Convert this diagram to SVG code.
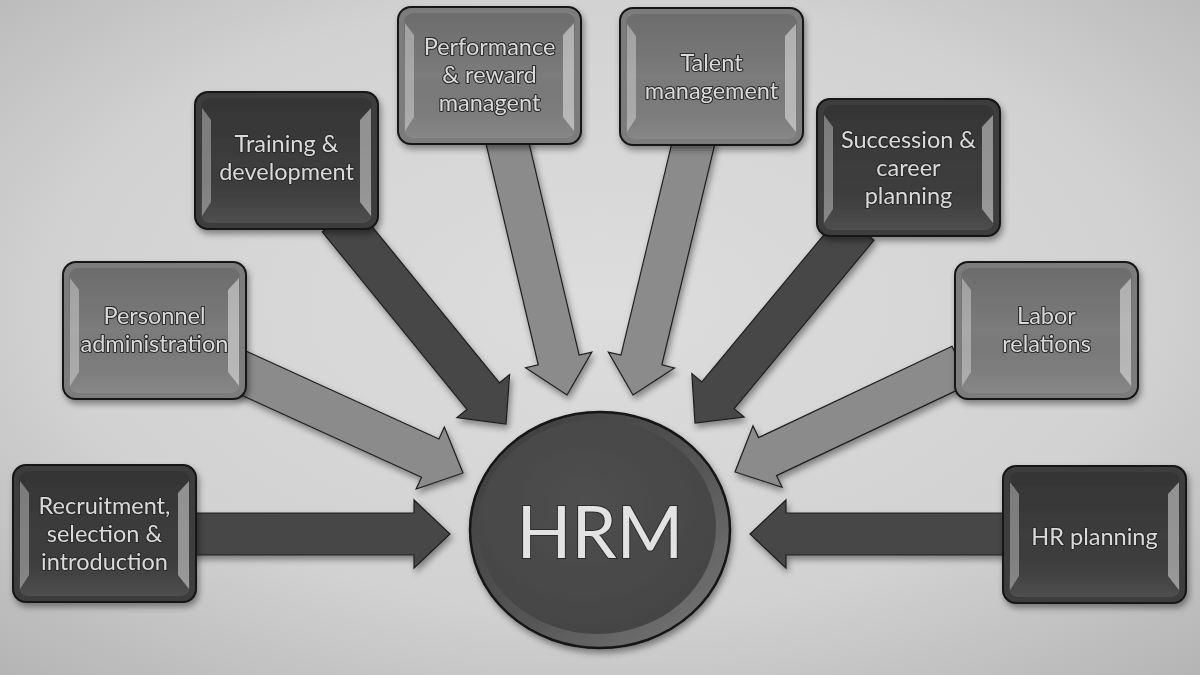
<svg xmlns="http://www.w3.org/2000/svg" xmlns:xlink="http://www.w3.org/1999/xlink" width="1200" height="675" viewBox="0 0 1200 675">
  <defs>
    <radialGradient id="bg" cx="50%" cy="45%" r="75%">
      <stop offset="0" stop-color="#dddddd"/>
      <stop offset="0.6" stop-color="#d2d2d2"/>
      <stop offset="1" stop-color="#b4b4b4"/>
    </radialGradient>
    <linearGradient id="faceShade" x1="0" y1="0" x2="0" y2="1">
      <stop offset="0" stop-color="#000" stop-opacity="0.12"/>
      <stop offset="0.5" stop-color="#000" stop-opacity="0"/>
      <stop offset="1" stop-color="#fff" stop-opacity="0.10"/>
    </linearGradient>
    <linearGradient id="rim" x1="0" y1="0" x2="1" y2="1">
      <stop offset="0" stop-color="#3a3a3a"/>
      <stop offset="0.55" stop-color="#555"/>
      <stop offset="1" stop-color="#7a7a7a"/>
    </linearGradient>
    <radialGradient id="face" cx="45%" cy="40%" r="65%">
      <stop offset="0" stop-color="#4f4f4f"/>
      <stop offset="1" stop-color="#444"/>
    </radialGradient>
    <filter id="sh" x="-20%" y="-20%" width="150%" height="150%">
      <feDropShadow dx="2" dy="4" stdDeviation="3" flood-color="#000" flood-opacity="0.4"/>
    </filter>
    <g id="bev">
      <rect x="6" y="6" width="171" height="125" rx="9" fill="url(#faceShade)"/>
      <path d="M7,16 L16,28 L16,110 L7,124 Z" fill="#fff" opacity="0.35"/>
      <path d="M176,16 L165,28 L165,110 L176,124 Z" fill="#fff" opacity="0.45"/>
    </g>
  </defs>
  <style>
    .box { stroke: #141414; stroke-width: 2; }
    .dark { fill: #3c3c3c; }
    .mid { fill: #7b7b7b; }
    .arrow { stroke: #1e1e1e; stroke-width: 1.2; stroke-linejoin: miter; }
    .adark { fill: #474747; }
    .amid { fill: #8b8b8b; }
    .lbl { font-family: Lato, "Open Sans", "Liberation Sans", sans-serif; font-size: 23.5px; fill: #dadada; text-anchor: middle; stroke: #2a2a2a; stroke-width: 2.2px; paint-order: stroke; stroke-linejoin: round; }
    .big { font-family: Lato, "Open Sans", "Liberation Sans", sans-serif; font-size: 72px; fill: #e2e2e2; text-anchor: middle; stroke: #2a2a2a; stroke-width: 2px; paint-order: stroke; }
  </style>

  <rect width="1200" height="675" fill="url(#bg)"/>

  <g id="connectors" filter="url(#sh)">
    <polygon class="arrow adark" transform="translate(450,534) rotate(0)" points="-260,-21 -36,-21 -36,-34 0,0 -36,34 -36,21 -260,21"/>
    <polygon class="arrow amid" transform="translate(463,473) rotate(24.5)" points="-250,-21 -36,-21 -36,-34 0,0 -36,34 -36,21 -250,21"/>
    <polygon class="arrow adark" transform="translate(506,424) rotate(50.8)" points="-265,-21 -36,-21 -36,-34 0,0 -36,34 -36,21 -265,21"/>
    <polygon class="arrow amid" transform="translate(567,395) rotate(76.7)" points="-265,-21 -36,-21 -36,-34 0,0 -36,34 -36,21 -265,21"/>
    <polygon class="arrow amid" transform="translate(633,395) rotate(103.5)" points="-265,-21 -36,-21 -36,-34 0,0 -36,34 -36,21 -265,21"/>
    <polygon class="arrow adark" transform="translate(695,423) rotate(129.7)" points="-255,-21 -36,-21 -36,-34 0,0 -36,34 -36,21 -255,21"/>
    <polygon class="arrow amid" transform="translate(735,472) rotate(154.7)" points="-250,-21 -36,-21 -36,-34 0,0 -36,34 -36,21 -250,21"/>
    <polygon class="arrow adark" transform="translate(750,534) rotate(180)" points="-260,-21 -36,-21 -36,-34 0,0 -36,34 -36,21 -260,21"/>
  </g>

  <g id="hrm" filter="url(#sh)">
    <ellipse cx="600" cy="530" rx="130" ry="118" fill="url(#rim)" stroke="#141414" stroke-width="2.5"/>
    <ellipse cx="597" cy="527" rx="119" ry="107" fill="url(#face)"/>
    <text class="big" x="600" y="558">HRM</text>
  </g>

  <g id="recruitment" transform="translate(13,465)" filter="url(#sh)">
    <rect class="box dark" width="183" height="137" rx="13"/>
    <use href="#bev"/>
    <text class="lbl" x="91.5" y="49">Recruitment,</text>
    <text class="lbl" x="91.5" y="77">selection &amp;</text>
    <text class="lbl" x="91.5" y="105">introduction</text>
  </g>

  <g id="personnel" transform="translate(63,262)" filter="url(#sh)">
    <rect class="box mid" width="183" height="137" rx="13"/>
    <use href="#bev"/>
    <text class="lbl" x="91.5" y="62">Personnel</text>
    <text class="lbl" x="91.5" y="90">administration</text>
  </g>

  <g id="training" transform="translate(195,92)" filter="url(#sh)">
    <rect class="box dark" width="183" height="137" rx="13"/>
    <use href="#bev"/>
    <text class="lbl" x="91.5" y="60">Training &amp;</text>
    <text class="lbl" x="91.5" y="88">development</text>
  </g>

  <g id="performance" transform="translate(398,7)" filter="url(#sh)">
    <rect class="box mid" width="183" height="137" rx="13"/>
    <use href="#bev"/>
    <text class="lbl" x="91.5" y="48">Performance</text>
    <text class="lbl" x="91.5" y="76">&amp; reward</text>
    <text class="lbl" x="91.5" y="104">managent</text>
  </g>

  <g id="talent" transform="translate(620,8)" filter="url(#sh)">
    <rect class="box mid" width="183" height="137" rx="13"/>
    <use href="#bev"/>
    <text class="lbl" x="91.5" y="63">Talent</text>
    <text class="lbl" x="91.5" y="91">management</text>
  </g>

  <g id="succession" transform="translate(817,99)" filter="url(#sh)">
    <rect class="box dark" width="183" height="137" rx="13"/>
    <use href="#bev"/>
    <text class="lbl" x="91.5" y="49">Succession &amp;</text>
    <text class="lbl" x="91.5" y="77">career</text>
    <text class="lbl" x="91.5" y="105">planning</text>
  </g>

  <g id="labor" transform="translate(955,262)" filter="url(#sh)">
    <rect class="box mid" width="183" height="137" rx="13"/>
    <use href="#bev"/>
    <text class="lbl" x="91.5" y="62">Labor</text>
    <text class="lbl" x="91.5" y="90">relations</text>
  </g>

  <g id="hrplanning" transform="translate(1003,466)" filter="url(#sh)">
    <rect class="box dark" width="183" height="137" rx="13"/>
    <use href="#bev"/>
    <text class="lbl" x="91.5" y="79">HR planning</text>
  </g>
</svg>
